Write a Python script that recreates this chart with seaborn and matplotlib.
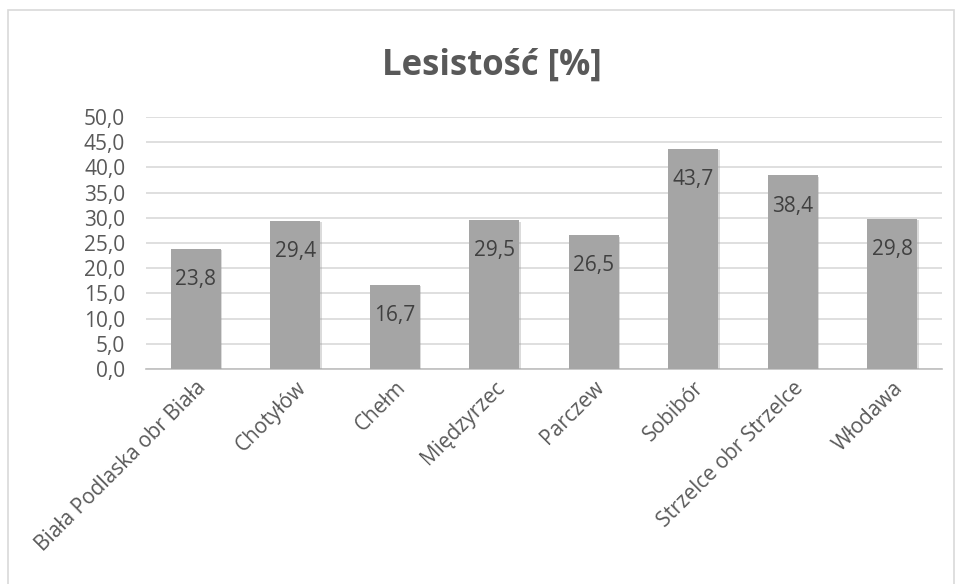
import matplotlib
matplotlib.use("Agg")
import matplotlib.pyplot as plt
import matplotlib.patheffects as pe
import seaborn as sns
import pandas as pd
from matplotlib.patches import Rectangle

# Data
categories = ["Biała Podlaska obr Biała", "Chotyłów", "Chełm", "Międzyrzec",
              "Parczew", "Sobibór", "Strzelce obr Strzelce", "Włodawa"]
values = [23.8, 29.4, 16.7, 29.5, 26.5, 43.7, 38.4, 29.8]
y_ticks = [0, 5, 10, 15, 20, 25, 30, 35, 40, 45, 50]

df = pd.DataFrame({"obreb": categories, "lesistosc": values})

sns.set_style("white")
plt.rcParams["font.family"] = ["Open Sans", "DejaVu Sans"]

fig = plt.figure(figsize=(9.57, 5.84), dpi=100)
ax = fig.add_axes([146 / 957, 1 - 369 / 584, 796 / 957, 252 / 584])

# chart border
fig.patches.append(Rectangle((8 / 957, -0.01), 946 / 957, 1 - 10 / 584 + 0.01,
                             transform=fig.transFigure, fill=False,
                             edgecolor="#d9d9d9", linewidth=1.2))

sns.barplot(data=df, x="obreb", y="lesistosc", ax=ax, color="#a5a5a5",
            saturation=1, width=0.5, zorder=3)
for p in ax.patches:
    p.set_edgecolor("none")
    p.set_path_effects([pe.SimplePatchShadow(offset=(1, -1), shadow_rgbFace="#999999",
                                             alpha=0.35), pe.Normal()])

ax.set_ylim(0, 50)
ax.set_xlim(-0.5, len(categories) - 0.5)
ax.set_yticks(y_ticks)
ax.set_yticklabels([f"{v:.1f}".replace(".", ",") for v in y_ticks])
ax.yaxis.grid(True, color="#d9d9d9", linewidth=1.2, zorder=0)
ax.set_axisbelow(True)

for s in ["top", "right", "left"]:
    ax.spines[s].set_visible(False)
ax.spines["bottom"].set_color("#bfbfbf")
ax.spines["bottom"].set_linewidth(1.2)

ax.tick_params(axis="y", length=0, labelsize=15, labelcolor="#595959", pad=15)
ax.tick_params(axis="x", length=0, labelsize=15, labelcolor="#595959", pad=6)
plt.setp(ax.get_xticklabels(), rotation=45, ha="right", rotation_mode="anchor")

ax.set_xlabel("")
ax.set_ylabel("")

# data labels inside bars
for i, v in enumerate(values):
    ax.annotate(f"{v:.1f}".replace(".", ","), (i, v), xytext=(0, -22),
                textcoords="offset points", ha="center", va="center",
                fontsize=15, color="#404040", zorder=5)

fig.text(492 / 957, 1 - 66 / 584, "Lesistość [%]", ha="center", va="center",
         fontsize=25, fontweight="bold", color="#595959")

fig.savefig("out.png", dpi=100)
